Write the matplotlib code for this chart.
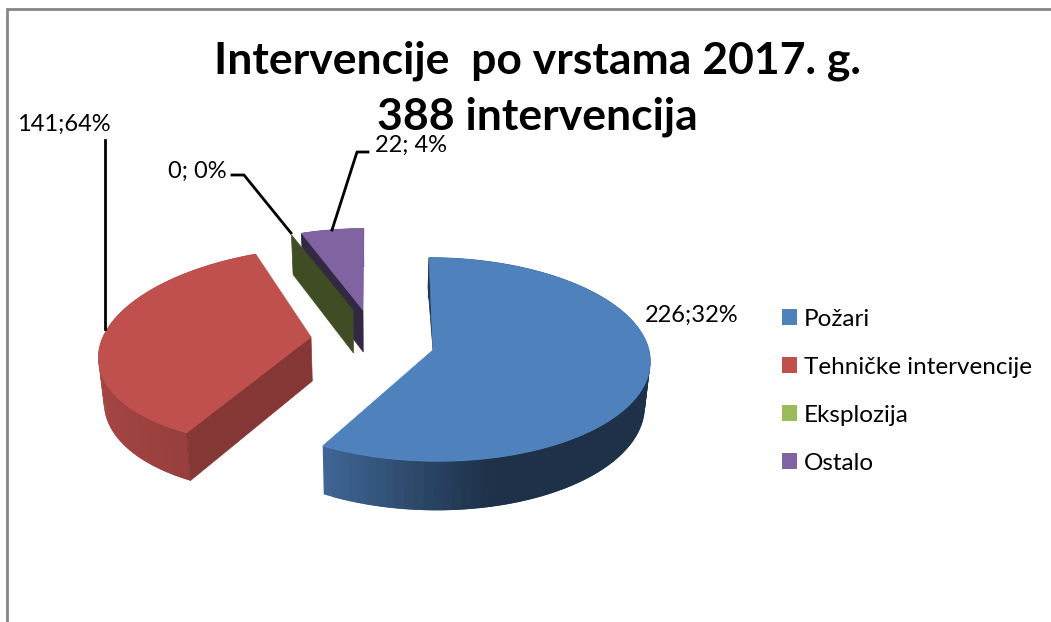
import numpy as np
import matplotlib
matplotlib.use('Agg')
import matplotlib.pyplot as plt
from matplotlib.patches import Polygon, Patch

plt.rcParams['font.family'] = ['Lato', 'DejaVu Sans']

categories = ['Požari', 'Tehničke intervencije', 'Eksplozija', 'Ostalo']
values = [226, 141, 0, 22]
point_labels = ['226;32%', '141;64%', '0; 0%', '22; 4%']
colors = ['#4F81BD', '#C0504D', '#9BBB59', '#8064A2']
title_lines = ['Intervencije  po vrstama 2017. g.', '388 intervencija']

# look of each slice on screen: tip, x radius, y radius, x/y shear, depth, side wall shade
views = {
    'Požari': dict(tip=(433, 350), rx=216, ry=101, sx=-4.4, sy=0, depth=44.5, wall=0.4),
    'Tehničke intervencije': dict(tip=(311, 337), rx=210, ry=98, sx=13.8, sy=5, depth=44, wall=0.69),
    'Eksplozija': dict(tip=(353, 310), rx=195, ry=87, sx=1, sy=0, depth=43, wall=0.41),
    'Ostalo': dict(tip=(363, 310), rx=195, ry=89, sx=1, sy=0, depth=42, wall=0.4),
}
persp = 0.0926
vanish_x = 375


def top_point(v, deg):
    a = np.radians(deg)
    x, y = np.cos(a), np.sin(a)
    w = 1 + persp * y
    return v['tip'][0] + (v['rx'] * x + v['sx'] * y) / w, v['tip'][1] - (v['ry'] * y + v['sy'] * x) / w


def low_point(v, deg):
    px, py = top_point(v, deg)
    w = 1 + persp * np.sin(np.radians(deg))
    return vanish_x + (px - vanish_x) * 0.98, py + v['depth'] / w


def shade(color, f):
    return tuple(c * f for c in matplotlib.colors.to_rgb(color))


fig = plt.figure(figsize=(10.51, 6.22), dpi=100, facecolor='white')

# pie only used for the slice angles, it stays hidden
ax_pie = fig.add_axes([0, 0, 0.1, 0.1])
wedges, _ = ax_pie.pie(values, startangle=90, counterclock=False, colors=colors)
ax_pie.set_visible(False)

ax = fig.add_axes([0, 0, 1, 1])
ax.set_xlim(0, 1051)
ax.set_ylim(622, 0)
ax.axis('off')

# frame of the chart area, only left and top are in the picture
ax.plot([6.5, 6.5, 1051], [622, 8.5, 8.5], color='#868686', lw=2, solid_joinstyle='miter')

# back slices first
for z, i in enumerate([3, 2, 1, 0]):
    name = categories[i]
    v = views[name]
    t1, t2 = wedges[i].theta1, wedges[i].theta2
    tip = v['tip']

    # curved outer wall, strips overlap so no seams show
    if t2 > t1:
        th = np.linspace(t1, t2, 90)
        for j in range(len(th) - 1):
            a = th[j]
            b = th[min(j + 2, len(th) - 1)]
            f = np.interp(np.cos(np.radians(th[j])), [-1, -0.48, 0.2, 1], [0.87, 0.78, 0.38, 0.38])
            ax.add_patch(Polygon([top_point(v, a), top_point(v, b), low_point(v, b), low_point(v, a)],
                                 facecolor=shade(colors[i], f), edgecolor='none', zorder=z + 2))

    # flat cut wall at the end of the slice
    tip_low = (vanish_x + (tip[0] - vanish_x) * 0.98, tip[1] + v['depth'])
    wall_c = shade(colors[i], v['wall'])
    if name == 'Požari':
        # only a thin sliver shows behind the top
        cx, cy = top_point(v, t2)
        ax.add_patch(Polygon([(cx, cy), (cx - 1, cy + 30), tip], facecolor=wall_c, edgecolor=wall_c,
                             lw=0.5, zorder=z + 2))
    else:
        ax.add_patch(Polygon([tip, top_point(v, t2), low_point(v, t2), tip_low], facecolor=wall_c,
                             edgecolor=wall_c, lw=0.5, zorder=z + 2))

    # top face
    if t2 > t1:
        th = np.linspace(t1, t2, 160)
        pts = [tip] + [top_point(v, a) for a in th]
        ax.add_patch(Polygon(pts, facecolor=colors[i], edgecolor=colors[i], lw=0.5, zorder=z + 2.5))

# leader lines
ax.plot([105, 105], [140, 329], color='black', lw=2, zorder=8)
ax.plot([232, 244, 291], [175, 175, 233], color='black', lw=2, zorder=8)
ax.plot([368, 357, 332], [152, 152, 230], color='black', lw=2, zorder=8)

# data labels
ax.text(17, 124, point_labels[1], fontsize=17, va='center', ha='left', zorder=9)
ax.text(168, 171, point_labels[2], fontsize=17, va='center', ha='left', zorder=9)
ax.text(375, 145, point_labels[3], fontsize=17, va='center', ha='left', zorder=9)
ax.text(645, 315, point_labels[0], fontsize=17, va='center', ha='left', zorder=9)

# title
ax.text(537, 61, title_lines[0], fontsize=32, fontweight='bold', ha='center', va='center', zorder=9)
ax.text(537, 117, title_lines[1], fontsize=32, fontweight='bold', ha='center', va='center', zorder=9)

# legend
handles = [Patch(facecolor=c, edgecolor='none') for c in colors]
ax.legend(handles, categories, loc='upper left', bbox_to_anchor=(772 / 1051, 1 - 299 / 622), frameon=False,
          fontsize=17.5, handlelength=0.62, handleheight=0.62, handletextpad=0.3,
          labelspacing=1.11, borderpad=0.4, borderaxespad=0)

fig.savefig('out.png', dpi=100)
